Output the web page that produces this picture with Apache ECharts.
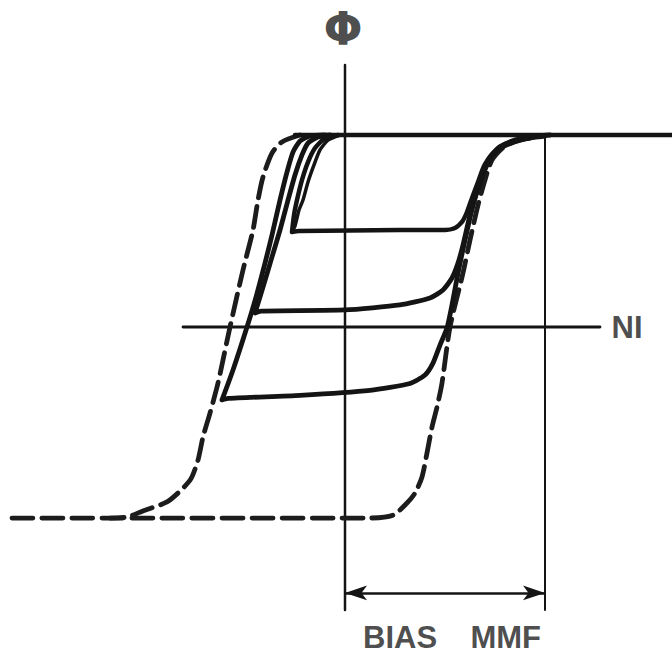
<!DOCTYPE html>
<html>
<head>
<meta charset="utf-8">
<script src="https://cdn.jsdelivr.net/npm/echarts@6/dist/echarts.min.js"></script>
<style>html,body{margin:0;padding:0;background:#fff}#c{width:672px;height:655px}</style>
</head>
<body>
<div id="c"></div>
<script>
// Axis units: NI (bias MMF = 2), flux Phi normalised to saturation = 1
const niRange = [-3.45, 3.27];
const phiRange = [-1.7083, 1.7031];

// Axes drawn in the sketch
const phiAxisLine = [[0, 1.365], [0, -1.474]];
const niAxisLine = [[-1.62, 0], [2.55, 0]];
const biasLine = [[2, 0.99], [2, -1.474]];
const biasArrowY = -1.385;
const biasMMF = 2;

// Saturation line (solid, top)
const topSaturation = [[-0.5, 1.0], [3.27, 1.0]];

// Major loop (dashed)
const majorLeft = [
  [-0.45, 1.0], [-0.63, 0.964], [-0.73, 0.906], [-0.82, 0.781], [-0.87, 0.661],
  [-0.92, 0.505], [-1.02, 0.297], [-1.15, 0.0], [-1.27, -0.292], [-1.35, -0.448],
  [-1.42, -0.573], [-1.47, -0.693], [-1.54, -0.790], [-1.64, -0.850], [-1.78, -0.911],
  [-2.02, -0.958], [-2.18, -0.99], [-2.35, -0.995]
];
const majorRight = [
  [-3.33, -0.995], [0.25, -0.995], [0.48, -0.98], [0.62, -0.917], [0.70, -0.865],
  [0.77, -0.781], [0.82, -0.656], [0.87, -0.521], [0.92, -0.417], [0.97, -0.292],
  [1.05, 0.0], [1.18, 0.281], [1.25, 0.453], [1.33, 0.635], [1.40, 0.766],
  [1.47, 0.87], [1.60, 0.943], [1.75, 0.974], [2.0, 0.995]
];

// Minor loops (solid)
const loopLow = [
  [-0.20, 1.0], [-0.35, 0.995], [-0.45, 0.969], [-0.52, 0.911], [-0.58, 0.807],
  [-0.65, 0.661], [-0.73, 0.479], [-0.80, 0.333], [-0.89, 0.156], [-0.98, 0.0],
  [-1.12, -0.224], [-1.23, -0.38], [-1.17, -0.372], [-0.45, -0.356], [0.25, -0.330],
  [0.65, -0.294], [0.80, -0.25], [0.88, -0.188], [0.95, -0.094], [1.02, -0.005],
  [1.07, 0.115], [1.13, 0.281], [1.20, 0.453], [1.28, 0.635], [1.36, 0.776],
  [1.43, 0.87], [1.53, 0.932], [1.67, 0.969], [1.85, 0.99], [2.05, 1.0]
];
const loopMid = [
  [-0.15, 1.0], [-0.27, 0.99], [-0.37, 0.958], [-0.43, 0.896], [-0.50, 0.792],
  [-0.57, 0.661], [-0.65, 0.505], [-0.73, 0.365], [-0.82, 0.208], [-0.90, 0.073],
  [-0.84, 0.083], [0.0, 0.089], [0.55, 0.115], [0.85, 0.151], [0.98, 0.193],
  [1.07, 0.255], [1.13, 0.333], [1.18, 0.427], [1.25, 0.583], [1.32, 0.703],
  [1.39, 0.807], [1.46, 0.885], [1.57, 0.943], [1.73, 0.974], [1.95, 0.995]
];
const loopHigh = [
  [-0.07, 1.0], [-0.21, 0.979], [-0.30, 0.932], [-0.37, 0.859], [-0.43, 0.766],
  [-0.48, 0.661], [-0.51, 0.583], [-0.53, 0.495], [-0.46, 0.50], [0.55, 0.505],
  [1.0, 0.505], [1.10, 0.516], [1.17, 0.547], [1.22, 0.599], [1.27, 0.672],
  [1.33, 0.755], [1.39, 0.839], [1.48, 0.906], [1.62, 0.948], [1.80, 0.979], [2.0, 0.995]
];
const loopHighInner = [
  [-0.53, 0.495], [-0.50, 0.526], [-0.46, 0.609], [-0.42, 0.661], [-0.37, 0.755],
  [-0.31, 0.844], [-0.25, 0.922], [-0.17, 0.974], [-0.05, 1.0]
];

// Text labels
const axisLabels = [
  { name: 'Φ', value: [-0.02, 1.55], size: 46, align: 'center' },
  { name: 'NI', value: [2.665, 0.0], size: 31, align: 'left' },
  { name: 'BIAS', value: [0.18, -1.615], size: 31, align: 'left' },
  { name: 'MMF', value: [1.96, -1.615], size: 31, align: 'right' }
];

const ink = '#141414';

function solid(data, width, smooth) {
  return {
    type: 'line', data: data, symbol: 'none', smooth: smooth || 0,
    silent: true, animation: false,
    lineStyle: { color: ink, width: width, cap: 'round', join: 'round' }
  };
}
function dashed(data, width) {
  return {
    type: 'line', data: data, symbol: 'none', smooth: 0.25,
    silent: true, animation: false,
    lineStyle: { color: '#1c1c1c', width: width, type: [21, 9], cap: 'round', join: 'round' }
  };
}

const chart = echarts.init(document.getElementById('c'), null, { renderer: 'svg' });
chart.setOption({
  backgroundColor: '#ffffff',
  animation: false,
  grid: { left: 0, right: 0, top: 0, bottom: 0 },
  xAxis: { type: 'value', min: niRange[0], max: niRange[1], show: false },
  yAxis: { type: 'value', min: phiRange[0], max: phiRange[1], show: false },
  series: [
    solid(phiAxisLine, 2.5),
    solid(niAxisLine, 2.8),
    solid(biasLine, 2),
    {
      type: 'line', data: [], silent: true, animation: false,
      markLine: {
        silent: true, animation: false,
        symbol: ['arrow', 'arrow'], symbolSize: [11, 22],
        label: { show: false },
        lineStyle: { color: ink, width: 2.5, type: 'solid' },
        data: [[{ coord: [0, biasArrowY] }, { coord: [biasMMF, biasArrowY] }]]
      }
    },
    dashed(majorLeft, 4.8),
    dashed(majorRight, 4.8),
    solid(topSaturation, 4.5),
    solid(loopLow, 4.8, 0.2),
    solid(loopMid, 4.8, 0.2),
    solid(loopHigh, 4.5, 0.2),
    solid(loopHighInner, 3.5, 0.2),
    {
      type: 'scatter', symbolSize: 0, silent: true, animation: false,
      data: axisLabels.map(function (d) {
        return {
          name: d.name, value: d.value,
          label: {
            show: true, position: 'inside', formatter: '{b}',
            align: d.align, verticalAlign: 'middle',
            fontSize: d.size, fontWeight: 'bold',
            fontFamily: d.name === 'Φ' ? 'DejaVu Sans' : 'Liberation Sans',
            color: '#1e1e1e'
          }
        };
      })
    }
  ]
});
</script>
</body>
</html>
